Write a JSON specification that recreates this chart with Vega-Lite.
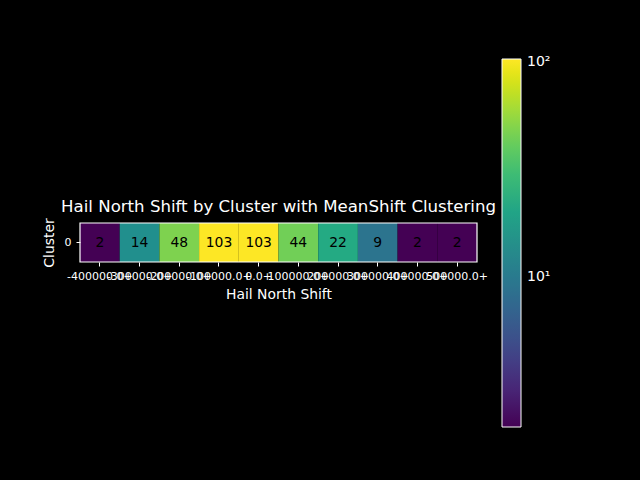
{
  "$schema": "https://vega.github.io/schema/vega-lite/v6.json",
  "width": 397,
  "height": 39,
  "autosize": {"type": "none"},
  "padding": {"left": 80, "top": 223, "right": 163, "bottom": 218},
  "background": "black",
  "config": {
    "font": "DejaVu Sans",
    "view": {"stroke": null},
    "axis": {
      "labelColor": "white",
      "titleColor": "white",
      "tickColor": "white",
      "domainColor": "white",
      "labelFont": "DejaVu Sans",
      "titleFont": "DejaVu Sans",
      "titleFontWeight": "normal",
      "grid": false
    }
  },
  "title": {
    "text": "Hail North Shift by Cluster with MeanShift Clustering",
    "color": "white",
    "fontSize": 16.6,
    "fontWeight": "normal",
    "font": "DejaVu Sans",
    "offset": -157,
    "frame": "group",
    "anchor": "middle"
  },
  "data": {
    "values": [
      {"shift": "-400000.0+", "cluster": "0", "count": 2},
      {"shift": "-300000.0+", "cluster": "0", "count": 14},
      {"shift": "-200000.0+", "cluster": "0", "count": 48},
      {"shift": "-100000.0+", "cluster": "0", "count": 103},
      {"shift": "0.0+", "cluster": "0", "count": 103},
      {"shift": "100000.0+", "cluster": "0", "count": 44},
      {"shift": "200000.0+", "cluster": "0", "count": 22},
      {"shift": "300000.0+", "cluster": "0", "count": 9},
      {"shift": "400000.0+", "cluster": "0", "count": 2},
      {"shift": "500000.0+", "cluster": "0", "count": 2}
    ]
  },
  "layer": [
    {
      "mark": {"type": "rect", "strokeWidth": 0},
      "encoding": {
        "x": {
          "field": "shift",
          "type": "ordinal",
          "sort": null,
          "title": "Hail North Shift",
          "scale": {"paddingInner": 0, "paddingOuter": 0},
          "axis": {
            "labelAngle": 0,
            "labelFontSize": 11,
            "labelOverlap": false,
            "labelBound": false,
            "labelFlush": false,
            "labelPadding": 4,
            "tickSize": 4,
            "titleFontSize": 13.9,
            "titlePadding": 6,
            "domain": false
          }
        },
        "y": {
          "field": "cluster",
          "type": "ordinal",
          "title": "Cluster",
          "scale": {"paddingInner": 0, "paddingOuter": 0},
          "axis": {
            "labelAngle": 0,
            "labelFontSize": 11,
            "tickSize": 4,
            "labelPadding": 5,
            "titleFontSize": 13.9,
            "titlePadding": 8,
            "domain": false
          }
        },
        "color": {
          "field": "count",
          "type": "quantitative",
          "scale": {"type": "log", "scheme": "viridis", "domain": [2, 103]},
          "legend": {
            "orient": "none",
            "legendX": 422,
            "legendY": -164,
            "direction": "vertical",
            "gradientLength": 368,
            "gradientThickness": 19,
            "gradientStrokeColor": "white",
            "gradientStrokeWidth": 1,
            "title": null,
            "values": [10, 100],
            "labelExpr": "datum.value == 10 ? '10¹' : '10²'",
            "labelColor": "white",
            "labelFontSize": 14,
            "labelFont": "DejaVu Sans",
            "labelOffset": 6
          }
        }
      }
    },
    {
      "mark": {"type": "text", "color": "black", "fontSize": 13.9, "font": "DejaVu Sans"},
      "encoding": {
        "x": {"field": "shift", "type": "ordinal", "sort": null},
        "y": {"field": "cluster", "type": "ordinal"},
        "text": {"field": "count", "type": "quantitative"}
      }
    },
    {
      "data": {"values": [{}]},
      "mark": {"type": "rect", "fill": null, "stroke": "white", "strokeWidth": 1.2},
      "encoding": {}
    }
  ]
}
